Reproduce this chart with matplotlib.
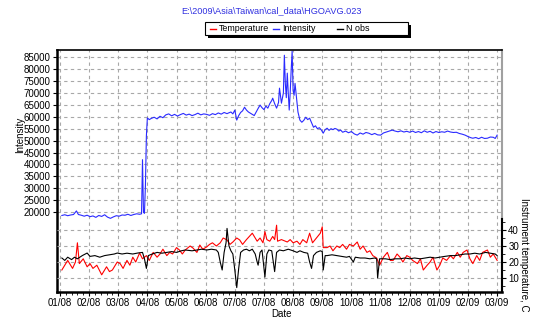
import numpy as np
import pandas as pd
import matplotlib
matplotlib.use("Agg")
import matplotlib.pyplot as plt
from matplotlib.lines import Line2D
from matplotlib.patches import Rectangle

plt.rcParams['font.family'] = ['Liberation Sans', 'DejaVu Sans']
plt.rcParams['font.size'] = 7

# data: day = days since 2008-01-01
int_days = [4, 7, 10, 13, 16, 19, 21, 24, 27, 30, 33, 36, 39, 42, 45, 48, 51, 54, 57, 60,
            63, 66, 69, 72, 75, 78, 81, 84, 86, 87, 88, 89, 90, 91, 92, 94,
            96, 99, 102, 105, 108, 111, 114, 117, 120, 123, 126, 129, 132, 135, 138, 141,
            144, 147, 150, 153, 156, 159, 162, 165, 168, 171, 174,
            175, 178, 180, 182, 184, 186, 188, 190, 192, 194, 196, 198, 200, 202, 204, 206,
            208, 210, 212, 214, 216, 218, 220, 221, 223, 225, 227, 228, 230, 232, 233, 234,
            235, 236, 237, 238, 239, 240, 241, 242, 243, 244, 245, 246, 247, 249, 251, 253,
            255, 257, 259, 261, 263, 265, 267, 269, 271, 273, 275, 277, 279, 281, 283, 285,
            287, 289, 291, 293, 296, 299, 302, 305, 308, 311, 314, 317, 320, 323, 326, 329,
            332, 335, 338, 341, 344, 347, 350, 353, 356, 359, 362, 365, 368, 371, 374, 377,
            380, 383, 386, 389, 392, 395, 398, 401, 404, 407, 410, 413, 416, 419, 422, 425,
            427, 430, 433, 436, 439, 442, 445, 448, 450, 452]
intensity = [18600, 18900, 18500, 18800, 19000, 20500, 19000, 18700, 18300, 18700, 18100, 18400,
             17800, 18600, 18200, 18900, 17900, 17400, 18000, 18500,
             18300, 18800, 18700, 19100, 18600, 19000, 19300, 19100, 19300, 42000, 20000, 19500,
             31000, 52000, 59500, 58800,
             59300, 59800, 59100, 60200, 59600, 60800, 61200, 60400, 61000, 60300, 60900, 61400,
             60700, 61100, 60500, 60900,
             61500, 60800, 61200, 61000, 60600, 61300, 60900, 61600, 61100, 61800, 61300,
             61500, 62000, 61200, 62800, 58600, 60500, 61800, 62500, 64000, 62800, 62000, 61500,
             61000, 60500, 62000, 63500,
             64900, 63800, 63000, 64500, 63600, 65500, 66800, 67800, 65500, 63600, 66000, 72000,
             65700, 70000, 85800, 74000,
             68000, 78300, 70000, 62800, 70000, 79500, 87500, 71000, 69000, 74000, 70000, 65700,
             62000, 58600, 57700, 58500,
             59800, 58800, 59400, 57500, 55600, 56200, 55000, 55400, 54500, 53100, 54600, 55200,
             54300, 55000, 54600, 55100,
             54800, 54000, 54400, 53500, 54000, 53300, 53800, 52800, 52300, 53200, 52700, 53400,
             53100, 52500, 53000, 52400,
             52300, 53200, 53600, 54000, 54400, 54000, 53700, 54100, 53600, 53900, 53500, 54000,
             53400, 53800, 53300, 54100,
             53500, 53900, 53200, 53800, 53400, 53700, 53500, 54000, 53600, 53400, 53500, 53000,
             52700, 52300, 51700, 51200,
             51000, 51300, 50800, 51400, 50900, 51000, 51500, 51400, 50900, 52300]

temp_days = [4, 7, 10, 15, 18, 20, 22, 26, 30, 33, 36, 40, 45, 48, 50, 53, 56, 61, 64, 67,
             71, 74, 77, 80, 84, 87, 91, 94, 98, 102, 105, 108, 112, 115, 118, 122, 125, 128,
             131, 136, 139, 143, 146, 149, 153, 156, 159, 163, 167, 170, 174, 177, 180, 184,
             187, 190, 194, 197, 200, 205, 208, 211, 213, 215, 218, 221, 223, 225, 226, 230,
             236, 239, 242, 246, 249, 252, 256, 259, 262, 266, 270, 272, 273, 277, 280, 283,
             287, 290, 293, 297, 300, 304, 308, 311, 314, 318, 321, 324, 328, 331, 335, 339,
             342, 345, 349, 352, 355, 359, 362, 365, 370, 373, 376, 380, 383, 386, 390, 393,
             396, 400, 404, 407, 411, 414, 417, 421, 424, 427, 431, 434, 437, 442, 445, 448, 452]
temperature = [15, 18, 21, 16, 20, 32, 19, 22, 17, 19, 16, 18, 12, 15, 17, 14, 15, 20, 19, 16,
               21, 18, 23, 20, 25.6, 22, 24, 21, 26, 23, 25, 28, 24, 26, 25, 29, 27.5, 25,
               27.5, 30, 28.7, 26, 30.6, 28, 29.4, 31, 32, 30, 32, 35, 33.8, 31, 32.5, 35,
               33.8, 31, 34, 36, 38, 33, 35, 32, 39, 34, 33, 36, 34, 43, 33, 34,
               32.5, 34, 32, 33, 31, 34, 32, 38, 32, 35, 38, 42, 29, 29, 30, 27,
               30, 29, 31, 28, 31, 30, 32.5, 28, 30, 26, 27, 24, 22.5, 18, 23, 26,
               21, 21, 25, 23, 20, 24, 23, 21, 19, 22, 15, 18, 20, 23, 15, 18,
               22.5, 21, 24, 22, 26, 23, 26, 27.5, 22, 19, 24, 21, 26, 27.5, 23, 25, 21]

nobs_days = [4, 7, 10, 14, 17, 20, 25, 30, 33, 38, 43, 48, 53, 58, 61, 66, 71, 77, 82, 87,
             89, 91, 93, 97, 102, 107, 112, 117, 122, 127, 131, 138, 143, 148, 153, 158, 163,
             165, 167, 169, 171, 173, 174, 176, 178, 180, 182, 184, 186, 188, 191, 194, 197,
             200, 203, 205, 206, 208, 210, 213, 215, 217, 220, 223, 225, 228, 232, 237, 242,
             246, 249, 253, 257, 259, 261, 263, 266, 270, 272, 273, 275, 277, 282, 287, 292,
             297, 300, 304, 306, 311, 316, 321, 326, 328, 329, 331, 337, 342, 347, 352, 357,
             362, 367, 373, 378, 383, 388, 393, 398, 404, 409, 414, 419, 424, 429, 434, 440,
             445, 450, 452]
nobs = [22.5, 21, 23, 21.5, 23, 22, 24, 25.6, 23.5, 24, 23, 24, 24.5, 25, 25.6, 25, 25.5, 25,
        25.6, 26, 22, 16, 24, 25, 26, 25.5, 26, 26.5, 26, 27, 27.5, 27, 27.5, 28, 27.5, 28,
        27.5, 26, 20, 15, 26, 32, 41, 30, 27, 25, 15, 4, 16, 26, 27.5, 28, 27,
        28, 25, 20, 18, 26, 27.5, 10.6, 25, 27.5, 27, 14, 26, 27.5, 27, 28, 27,
        26, 27, 26, 25.5, 20, 16, 24, 26, 27, 26.5, 15, 24, 24, 24.5, 24, 23.5,
        23, 23.5, 20, 23, 22.5, 22.5, 22, 22.5, 22, 10, 22, 22, 21.5, 22, 22, 22.5,
        22, 22.5, 22, 22.5, 23, 22.5, 23, 23.5, 24, 24, 24.5, 25, 25, 25.5, 25, 26,
        25.5, 25, 24]

x_tick_labels = ['01/08', '02/08', '03/08', '04/08', '05/08', '06/08', '07/08', '07/08',
                 '08/08', '09/08', '10/08', '11/08', '12/08', '01/09', '02/09', '03/09']
int_ticks = list(range(20000, 85001, 5000))
temp_ticks = [10, 20, 30, 40]
series_names = ['Temperature', 'Intensity', 'N obs']
series_colors = ['red', '#2a2aff', 'black']

t0 = pd.Timestamp('2008-01-01')
def to_dates(d):
    return t0 + pd.to_timedelta(np.array(d), unit='D')

W, H = 540, 327
fig = plt.figure(figsize=(W/100, H/100), dpi=100)
ax1 = fig.add_axes([57/W, 1-292/H, 445/W, 242/H])
ax2 = ax1.twinx()

grid_kw = dict(color='#a8a8a8', linestyle=(0, (3, 3)), linewidth=0.8)

ax1.plot(to_dates(int_days), intensity, color=series_colors[1], lw=0.8)
ax2.plot(to_dates(temp_days), temperature, color=series_colors[0], lw=0.8)
ax2.plot(to_dates(nobs_days), nobs, color=series_colors[2], lw=0.8)

ax1.set_xlim(t0 - pd.Timedelta(days=1), t0 + pd.Timedelta(days=457))
ax1.set_ylim(-13500, 88000)
ax2.set_ylim(1.25, 152.5)

xt = pd.date_range('2008-01-03', periods=len(x_tick_labels), freq='30D')
ax1.set_xticks(xt)
ax1.set_xticklabels(x_tick_labels)
ax1.set_xticks(pd.date_range('2008-01-03', '2009-04-01', freq='6D'), minor=True)
ax1.set_yticks(int_ticks)
ax2.set_yticks(temp_ticks)
ax2.set_yticks([5, 15, 25, 35, 45], minor=True)

ax1.grid(True, axis='both', which='major', **grid_kw)
ax2.grid(True, axis='y', which='major', **grid_kw)

ax1.tick_params(axis='both', length=3, width=0.8, pad=1.5, labelsize=7)
ax1.tick_params(axis='x', which='minor', length=2, width=0.6)
ax2.tick_params(axis='y', which='major', length=3, width=0.8, pad=1.5, labelsize=7)
ax2.tick_params(axis='y', which='minor', length=2, width=0.6)

for s in ['left', 'bottom']:
    ax1.spines[s].set_linewidth(1.8)
ax1.spines['top'].set_linewidth(1.2)
ax1.spines['right'].set_color('#a0a0a0')
ax1.spines['right'].set_linewidth(1.5)
for s in ['left', 'bottom', 'top']:
    ax2.spines[s].set_visible(False)
ax2.spines['right'].set_bounds(1.25, 47)
ax2.spines['right'].set_linewidth(1.5)

fig.text(271/W, 1-11/H, r'E:\2009\Asia\Taiwan\cal_data\HGOAVG.023', color='#3030e0',
         ha='center', va='center', fontsize=6.6)
fig.text(20/W, 1-135/H, 'Intensity', rotation=90, ha='center', va='center', fontsize=7)
fig.text(524/W, 1-255/H, 'Instrument temperature, C', rotation=270, ha='center',
         va='center', fontsize=7)
fig.text(281/W, 1-314/H, 'Date', ha='center', va='center', fontsize=7)

# legend box with a hard black shadow
fig.add_artist(Rectangle((208/W, 1-38/H), 203/W, 13/H, transform=fig.transFigure,
                         facecolor='black', edgecolor='none', zorder=5))
fig.add_artist(Rectangle((205/W, 1-35/H), 203/W, 13/H, transform=fig.transFigure,
                         facecolor='white', edgecolor='black', lw=0.8, zorder=6))
for i, (name, col) in enumerate(zip(series_names, series_colors)):
    hx = [210, 273, 337][i]
    fig.add_artist(Line2D([hx/W, (hx+6)/W], [1-28.5/H, 1-28.5/H], color=col, lw=1.0,
                          transform=fig.transFigure, zorder=7))
    fig.text((hx+9)/W, 1-28.5/H, name, ha='left', va='center', fontsize=6.4, zorder=7)

fig.savefig('out.png', dpi=100)
